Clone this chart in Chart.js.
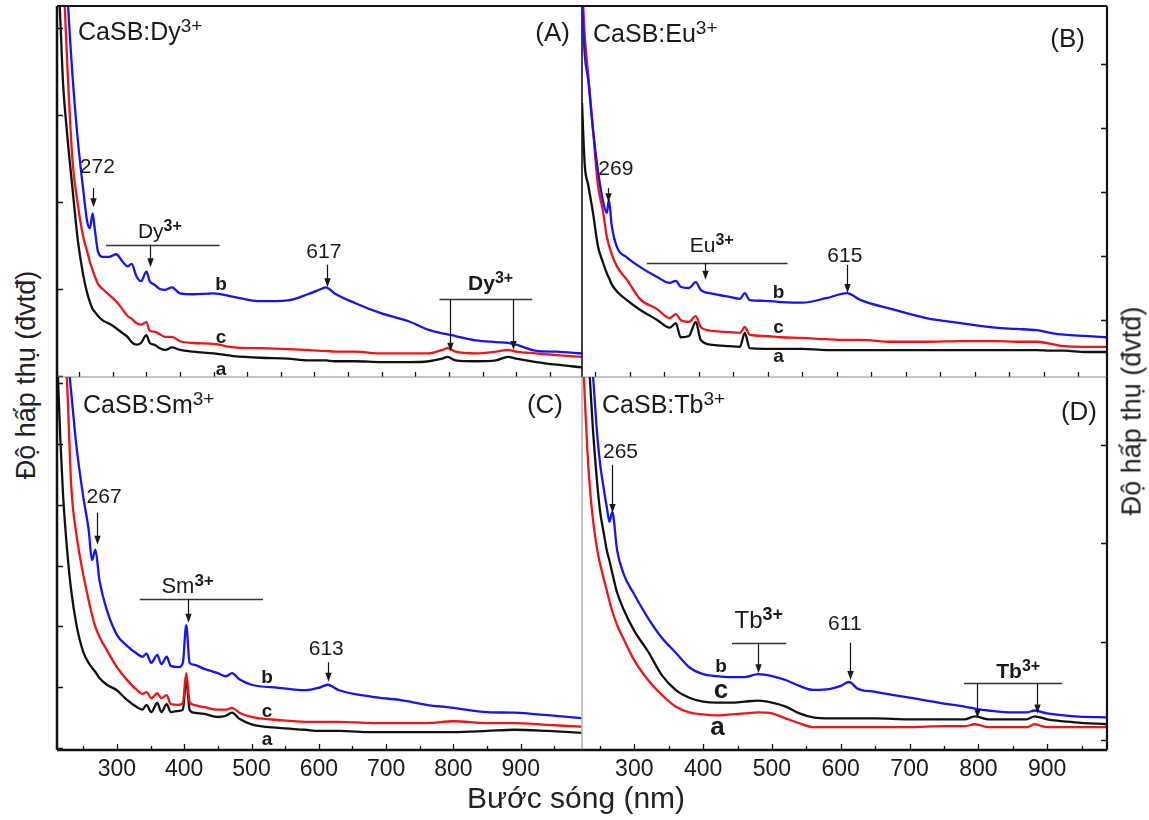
<!DOCTYPE html>
<html>
<head>
<meta charset="utf-8">
<script src="https://cdn.jsdelivr.net/npm/chart.js@4.4.1/dist/chart.umd.min.js"></script>
<style>
  body { margin: 0; background: #fff; }
  #wrap { position: relative; width: 1149px; height: 820px; overflow: hidden; background: #fff;
          font-family: 'Liberation Sans', Arial, sans-serif; color: #222; }
  canvas { position: absolute; }
  .lab { position: absolute; line-height: 1; white-space: nowrap; transform: translate(-50%, -50%); }
  .ylab { font-size: 27px; transform: translate(-50%, -50%) rotate(-90deg); }
</style>
</head>
<body>
<div id="wrap">
  <canvas id="cA" width="557" height="403" style="left:41px; top:-10px"></canvas>
  <canvas id="cB" width="557" height="403" style="left:566px; top:-10px"></canvas>
  <canvas id="cC" width="557" height="445" style="left:41px; top:361px"></canvas>
  <canvas id="cD" width="557" height="445" style="left:566px; top:361px"></canvas>
  <div class="lab ylab" style="left:26px; top:375px">Độ hấp thụ (đvtđ)</div>
  <div class="lab ylab" style="left:1132px; top:411px">Độ hấp thụ (đvtđ)</div>
  <div class="lab" style="left:576px; top:798px; font-size:30px">Bước sóng (nm)</div>
</div>
<script>
const FONT = "'Liberation Sans', Arial, sans-serif";

// tick labels on the wavelength axis (nm)
const xTickNm = [300, 400, 500, 600, 700, 800, 900];
const xMinorNm = [250, 350, 450, 550, 650, 750, 850, 950];

// (A) CaSB:Dy3+  -- wavelength (nm) and absorbance (a.u.) of samples a, b, c
const wlDy = [218, 222, 226, 232, 240, 248, 256, 262, 266, 270, 273, 278, 285, 295, 305, 315, 322, 328, 335, 342,
  350, 355, 362, 370, 378, 388, 400, 420, 450, 480, 520, 560, 590, 610, 617, 630, 660, 700, 740, 770,
  790, 798, 810, 840, 870, 888, 900, 930, 960, 998];
const dyA = [4.78, 4.09, 3.37, 2.79, 2.16, 1.56, 1.16, 0.95, 0.85, 0.77, 0.74, 0.69, 0.64, 0.60, 0.55, 0.49, 0.45, 0.39, 0.36, 0.38,
  0.47, 0.38, 0.36, 0.32, 0.30, 0.33, 0.30, 0.28, 0.26, 0.23, 0.21, 0.20, 0.18, 0.18, 0.18, 0.17, 0.17, 0.16, 0.16, 0.17,
  0.20, 0.22, 0.18, 0.17, 0.18, 0.22, 0.20, 0.16, 0.13, 0.10];
const dyB = [7.77, 6.62, 5.70, 4.49, 3.46, 2.71, 2.14, 1.77, 1.70, 1.87, 1.70, 1.43, 1.37, 1.37, 1.40, 1.31, 1.26, 1.29, 1.15, 1.09,
  1.20, 1.09, 1.05, 1.00, 0.99, 1.02, 0.95, 0.94, 0.95, 0.91, 0.86, 0.87, 0.94, 1.00, 1.02, 0.95, 0.84, 0.72, 0.63, 0.53,
  0.49, 0.48, 0.46, 0.41, 0.39, 0.38, 0.36, 0.29, 0.28, 0.26];
const dyC = [5.47, 5.01, 4.67, 3.63, 2.48, 1.97, 1.60, 1.43, 1.31, 1.22, 1.15, 1.06, 1.00, 0.93, 0.86, 0.76, 0.69, 0.66, 0.61, 0.59,
  0.62, 0.52, 0.51, 0.48, 0.45, 0.45, 0.40, 0.38, 0.37, 0.33, 0.32, 0.31, 0.30, 0.29, 0.29, 0.28, 0.28, 0.26, 0.26, 0.26,
  0.30, 0.32, 0.28, 0.26, 0.28, 0.30, 0.28, 0.26, 0.24, 0.22];

// (B) CaSB:Eu3+
const wlEu = [231, 235, 240, 247, 254, 261, 267, 270, 274, 282, 296, 315, 340, 358, 367, 374, 386, 396, 403, 420,
  445, 460, 467, 474, 495, 520, 550, 585, 615, 635, 680, 730, 780, 830, 860, 890, 910, 930, 960, 992];
const euA = [4.39, 3.42, 3.11, 2.67, 2.16, 1.91, 1.73, 1.66, 1.56, 1.44, 1.31, 1.16, 1.00, 0.88, 0.95, 0.73, 0.75, 0.97, 0.69, 0.61,
  0.59, 0.58, 0.80, 0.56, 0.55, 0.55, 0.55, 0.53, 0.53, 0.53, 0.53, 0.53, 0.53, 0.53, 0.53, 0.53, 0.52, 0.52, 0.50, 0.50];
const euB = [6.00, 5.14, 4.75, 3.97, 3.34, 2.88, 2.67, 2.88, 2.48, 2.13, 1.98, 1.83, 1.67, 1.58, 1.61, 1.52, 1.50, 1.59, 1.47, 1.41,
  1.36, 1.33, 1.42, 1.31, 1.30, 1.28, 1.27, 1.34, 1.42, 1.31, 1.17, 1.03, 0.95, 0.88, 0.86, 0.84, 0.80, 0.77, 0.75, 0.73];
const euC = [6.31, 5.45, 4.83, 3.97, 3.11, 2.72, 2.30, 2.17, 2.03, 1.83, 1.63, 1.33, 1.17, 1.03, 1.09, 1.00, 0.97, 1.06, 0.89, 0.83,
  0.81, 0.80, 0.89, 0.77, 0.75, 0.73, 0.72, 0.70, 0.69, 0.69, 0.66, 0.66, 0.67, 0.67, 0.66, 0.66, 0.63, 0.59, 0.58, 0.58];

// (C) CaSB:Sm3+
const wlSm = [212, 216, 220, 226, 232, 240, 250, 258, 263, 268, 274, 285, 300, 315, 330, 338, 344, 351, 360, 366,
  374, 380, 392, 398, 403, 408, 414, 430, 450, 462, 471, 482, 500, 540, 580, 600, 613, 630, 680, 720,
  760, 800, 850, 890, 940, 990];
const smA = [6.22, 5.07, 4.16, 3.26, 2.60, 2.02, 1.58, 1.40, 1.32, 1.25, 1.15, 1.04, 0.95, 0.79, 0.67, 0.63, 0.71, 0.59, 0.74, 0.59,
  0.72, 0.59, 0.61, 0.63, 1.12, 0.63, 0.58, 0.56, 0.51, 0.53, 0.58, 0.48, 0.39, 0.33, 0.30, 0.28, 0.28, 0.28, 0.26, 0.26,
  0.26, 0.26, 0.28, 0.30, 0.28, 0.25];
const smB = [8.50, 7.90, 7.30, 6.55, 5.86, 4.95, 4.13, 3.59, 3.09, 3.26, 2.76, 2.27, 1.86, 1.68, 1.55, 1.50, 1.55, 1.40, 1.53, 1.38,
  1.50, 1.35, 1.33, 1.40, 2.02, 1.40, 1.37, 1.30, 1.23, 1.18, 1.23, 1.13, 1.04, 0.99, 0.95, 0.99, 1.04, 0.95, 0.84, 0.79,
  0.71, 0.66, 0.59, 0.58, 0.54, 0.49];
const smC = [7.60, 7.20, 6.80, 6.00, 4.33, 3.50, 2.85, 2.43, 2.19, 1.99, 1.83, 1.61, 1.33, 1.12, 0.95, 0.89, 0.92, 0.82, 0.90, 0.82,
  0.87, 0.72, 0.71, 0.74, 1.23, 0.76, 0.71, 0.67, 0.63, 0.63, 0.66, 0.58, 0.51, 0.46, 0.43, 0.43, 0.43, 0.43, 0.41, 0.41,
  0.41, 0.44, 0.41, 0.41, 0.38, 0.35];

// (D) CaSB:Tb3+
const wlTb = [225, 228, 232, 236, 240, 245, 250, 256, 260, 264, 268, 275, 285, 300, 320, 340, 360, 380, 400, 420,
  440, 460, 480, 500, 520, 540, 560, 585, 600, 612, 625, 650, 700, 750, 780, 795, 815, 850, 870, 882,
  900, 940, 987];
const tbA = [4.02, 3.48, 2.92, 2.52, 2.24, 1.98, 1.80, 1.63, 1.52, 1.41, 1.31, 1.17, 1.02, 0.81, 0.61, 0.46, 0.34, 0.28, 0.26, 0.25,
  0.26, 0.27, 0.28, 0.27, 0.22, 0.17, 0.13, 0.13, 0.13, 0.13, 0.13, 0.13, 0.13, 0.14, 0.14, 0.16, 0.13, 0.13, 0.13, 0.16,
  0.13, 0.13, 0.13];
const tbB = [5.29, 4.98, 4.58, 4.17, 3.71, 3.20, 2.83, 2.54, 2.37, 2.22, 2.32, 1.93, 1.68, 1.48, 1.24, 1.04, 0.89, 0.74, 0.67, 0.65,
  0.64, 0.64, 0.67, 0.65, 0.61, 0.55, 0.51, 0.52, 0.55, 0.59, 0.52, 0.49, 0.43, 0.37, 0.34, 0.32, 0.30, 0.28, 0.28, 0.30,
  0.27, 0.24, 0.23];
const tbC = [4.98, 4.58, 4.07, 3.61, 3.15, 2.70, 2.34, 2.09, 1.93, 1.82, 1.70, 1.50, 1.32, 1.11, 0.90, 0.66, 0.51, 0.43, 0.39, 0.38,
  0.38, 0.39, 0.40, 0.38, 0.34, 0.27, 0.23, 0.22, 0.22, 0.22, 0.22, 0.22, 0.21, 0.21, 0.21, 0.24, 0.21, 0.21, 0.21, 0.24,
  0.21, 0.18, 0.16];

const BLACK = '#111111', RED = '#f01414', BLUE = '#1414f5', GRAY = '#8a8a8a';
const PAD = 16, AXIS_H = 40;

// little helpers for the labels drawn inside the panels (data coordinates)
function txt(x, y, parts, size, bold, supBold) {
  return {t: 'text', x, y, parts, size, bold: !!bold, supBold: supBold === undefined ? !!bold : supBold};
}
function arrow(x, y1, y2) { return {t: 'arrow', x, y1, y2}; }
function bar(x1, x2, y) { return {t: 'bar', x1, x2, y}; }

function drawRich(ctx, x, y, parts, size, bold, supBold, align) {
  const supSize = Math.round(size * 0.76);
  const pieces = parts.map(([s, sup]) => {
    const f = ((sup ? supBold : bold) ? 'bold ' : '') + (sup ? supSize : size) + 'px ' + FONT;
    ctx.font = f;
    return {s, sup, f, w: ctx.measureText(s).width};
  });
  const total = pieces.reduce((t, p) => t + p.w, 0);
  let cx = align === 'left' ? x : align === 'right' ? x - total : x - total / 2;
  ctx.textAlign = 'left';
  ctx.textBaseline = 'alphabetic';
  pieces.forEach(p => {
    ctx.font = p.f;
    ctx.fillText(p.s, cx, p.sup ? y - size * 0.32 : y);
    cx += p.w;
  });
}

const panelDeco = {
  id: 'panelDeco',
  afterDraw(chart, args, o) {
    const {ctx, chartArea: a} = chart;
    const xs = chart.scales.x, ys = chart.scales.y;
    ctx.save();

    // inward tick marks
    ctx.strokeStyle = BLACK;
    ctx.lineWidth = 1.3;
    ctx.beginPath();
    xTickNm.concat(xMinorNm).forEach(v => {
      if (v <= xs.min || v >= xs.max) return;
      const px = Math.round(xs.getPixelForValue(v)) + 0.5;
      const len = xTickNm.includes(v) ? o.xMajorLen : o.xMinorLen;
      ctx.moveTo(px, a.bottom);
      ctx.lineTo(px, a.bottom - len);
    });
    for (let v = Math.ceil(ys.min); v <= ys.max; v++) {
      const py = Math.round(ys.getPixelForValue(v)) + 0.5;
      if (o.ySide === 'left') { ctx.moveTo(a.left, py); ctx.lineTo(a.left + 6, py); }
      else { ctx.moveTo(a.right, py); ctx.lineTo(a.right - 6, py); }
    }
    ctx.stroke();

    // frame sides
    const edges = {
      top: [a.left, a.top, a.right, a.top], bottom: [a.left, a.bottom, a.right, a.bottom],
      left: [a.left, a.top, a.left, a.bottom], right: [a.right, a.top, a.right, a.bottom]
    };
    Object.entries(o.sides).forEach(([k, [col, w]]) => {
      const [x1, y1, x2, y2] = edges[k];
      ctx.strokeStyle = col;
      ctx.lineWidth = w;
      ctx.beginPath();
      ctx.moveTo(x1, y1);
      ctx.lineTo(x2, y2);
      ctx.stroke();
    });

    // panel title and letter
    ctx.fillStyle = '#1a1a1a';
    drawRich(ctx, a.left + o.title.dx, a.top + o.title.dy, o.title.parts, 25, false, false, 'left');
    drawRich(ctx, a.right - o.letter.dx, a.top + o.letter.dy, [[o.letter.text]], 26, false, false, 'right');

    // peak labels, bars and arrows
    o.notes.forEach(n => {
      if (n.t === 'text') {
        drawRich(ctx, xs.getPixelForValue(n.x), ys.getPixelForValue(n.y), n.parts, n.size, n.bold, n.supBold, 'center');
      } else if (n.t === 'bar') {
        const py = Math.round(ys.getPixelForValue(n.y)) + 0.5;
        ctx.strokeStyle = '#333';
        ctx.lineWidth = 1.5;
        ctx.beginPath();
        ctx.moveTo(xs.getPixelForValue(n.x1), py);
        ctx.lineTo(xs.getPixelForValue(n.x2), py);
        ctx.stroke();
      } else if (n.t === 'arrow') {
        const px = Math.round(xs.getPixelForValue(n.x)) + 0.5;
        const p1 = ys.getPixelForValue(n.y1), p2 = ys.getPixelForValue(n.y2);
        ctx.strokeStyle = '#111';
        ctx.lineWidth = 1.2;
        ctx.beginPath();
        ctx.moveTo(px, p1);
        ctx.lineTo(px, p2 - 7);
        ctx.stroke();
        ctx.beginPath();
        ctx.moveTo(px - 3.2, p2 - 9);
        ctx.lineTo(px + 3.2, p2 - 9);
        ctx.lineTo(px, p2);
        ctx.closePath();
        ctx.fill();
      }
    });
    ctx.restore();
  }
};

function makePanel(id, p) {
  const xScale = {
    type: 'linear', min: p.xMin, max: p.xMax, display: p.labels,
    grid: {display: false, drawTicks: false},
    border: {display: false},
    ticks: {font: {family: FONT, size: 23}, color: '#1a1a1a', padding: 6, maxRotation: 0, autoSkip: false},
    afterBuildTicks: s => { s.ticks = xTickNm.map(v => ({value: v})); }
  };
  if (p.labels) xScale.afterFit = s => { s.height = AXIS_H; };

  new Chart(document.getElementById(id), {
    type: 'line',
    data: {
      datasets: p.series.map(s => ({
        label: s.name,
        data: p.wl.map((w, i) => ({x: w, y: s.values[i]})),
        borderColor: s.color,
        borderWidth: 2.3,
        pointRadius: 0,
        fill: false,
        cubicInterpolationMode: 'monotone'
      }))
    },
    options: {
      responsive: false,
      animation: false,
      events: [],
      layout: {padding: {left: PAD, right: PAD, top: PAD, bottom: PAD}},
      plugins: {legend: {display: false}, tooltip: {enabled: false}, panelDeco: p.deco},
      scales: {
        x: xScale,
        y: {type: 'linear', min: p.yMin, max: p.yMax, display: false}
      }
    },
    plugins: [panelDeco]
  });
}

const DY = [['Dy'], ['3+', 1]], EU = [['Eu'], ['3+', 1]], SM = [['Sm'], ['3+', 1]], TB = [['Tb'], ['3+', 1]];

makePanel('cA', {
  wl: wlDy, xMin: 217, xMax: 998, yMin: -0.011, yMax: 4.253, labels: false,
  series: [{name: 'b', values: dyB, color: BLUE}, {name: 'c', values: dyC, color: RED}, {name: 'a', values: dyA, color: BLACK}],
  deco: {
    sides: {top: [BLACK, 2], left: [BLACK, 2.5], right: [BLACK, 1.6], bottom: [GRAY, 1]},
    ySide: 'left', xMajorLen: 5, xMinorLen: 5,
    title: {parts: [['CaSB:Dy'], ['3+', 1]], dx: 21, dy: 34},
    letter: {text: '(A)', dx: 12, dy: 35},
    notes: [
      txt(277, 2.33, [['272']], 21), arrow(270, 2.16, 1.94),
      txt(370, 1.586, DY, 21, false, true), bar(290, 459, 1.51), arrow(355, 1.51, 1.25),
      txt(614, 1.36, [['617']], 21), arrow(618, 1.28, 1.02),
      txt(862, 0.99, DY, 21, true), bar(786, 924, 0.885), arrow(802, 0.885, 0.28), arrow(895, 0.885, 0.30),
      txt(461, 0.99, [['b']], 19, true), txt(461, 0.38, [['c']], 19, true), txt(461, 0.01, [['a']], 19, true)
    ]
  }
});

makePanel('cB', {
  wl: wlEu, xMin: 231, xMax: 992, yMin: 0.109, yMax: 5.906, labels: false,
  series: [{name: 'b', values: euB, color: BLUE}, {name: 'c', values: euC, color: RED}, {name: 'a', values: euA, color: BLACK}],
  deco: {
    sides: {top: [BLACK, 2], right: [BLACK, 2.2], bottom: [GRAY, 1]},
    ySide: 'right', xMajorLen: 5, xMinorLen: 5,
    title: {parts: [['CaSB:Eu'], ['3+', 1]], dx: 11, dy: 36},
    letter: {text: '(B)', dx: 22, dy: 41},
    notes: [
      txt(280, 3.27, [['269']], 21), arrow(269, 3.06, 2.84),
      txt(419, 2.06, EU, 21, false, true), bar(325, 529, 1.89), arrow(409, 1.89, 1.63),
      txt(612, 1.91, [['615']], 21), arrow(615, 1.86, 1.42),
      txt(516, 1.34, [['b']], 19, true), txt(516, 0.80, [['c']], 19, true), txt(516, 0.34, [['a']], 19, true)
    ]
  }
});

makePanel('cC', {
  wl: wlSm, xMin: 211, xMax: 991, yMin: -0.033, yMax: 6.10, labels: true,
  series: [{name: 'b', values: smB, color: BLUE}, {name: 'c', values: smC, color: RED}, {name: 'a', values: smA, color: BLACK}],
  deco: {
    sides: {left: [BLACK, 2.5], bottom: [BLACK, 2.5], right: [GRAY, 1]},
    ySide: 'left', xMajorLen: 6, xMinorLen: 4,
    title: {parts: [['CaSB:Sm'], ['3+', 1]], dx: 26, dy: 36},
    letter: {text: '(C)', dx: 19, dy: 36},
    notes: [
      txt(281, 4.03, [['267']], 21), arrow(270, 3.87, 3.34),
      txt(405, 2.55, SM, 22, false, true), bar(334, 517, 2.45), arrow(406, 2.45, 2.06),
      txt(611, 1.53, [['613']], 21), arrow(614, 1.41, 1.09),
      txt(523, 1.07, [['b']], 19, true), txt(523, 0.51, [['c']], 19, true), txt(523, 0.05, [['a']], 19, true)
    ]
  }
});

makePanel('cD', {
  wl: wlTb, xMin: 224, xMax: 987, yMin: -0.102, yMax: 3.693, labels: true,
  series: [{name: 'b', values: tbB, color: BLUE}, {name: 'c', values: tbC, color: BLACK}, {name: 'a', values: tbA, color: RED}],
  deco: {
    sides: {right: [BLACK, 2.2], bottom: [BLACK, 2.5]},
    ySide: 'right', xMajorLen: 6, xMinorLen: 4,
    title: {parts: [['CaSB:Tb'], ['3+', 1]], dx: 20, dy: 36},
    letter: {text: '(D)', dx: 10, dy: 43},
    notes: [
      txt(280, 2.87, [['265']], 21), arrow(268, 2.80, 2.31),
      txt(481, 1.14, TB, 24, false, true), bar(442, 521, 0.99), arrow(480, 0.99, 0.68),
      txt(606, 1.12, [['611']], 21), arrow(613, 0.99, 0.61),
      txt(858, 0.63, TB, 21, true), bar(779, 922, 0.58), arrow(798, 0.58, 0.22), arrow(885, 0.58, 0.27),
      txt(426, 0.69, [['b']], 19, true), txt(426, 0.43, [['c']], 26, true), txt(421, 0.05, [['a']], 26, true)
    ]
  }
});
</script>
</body>
</html>
